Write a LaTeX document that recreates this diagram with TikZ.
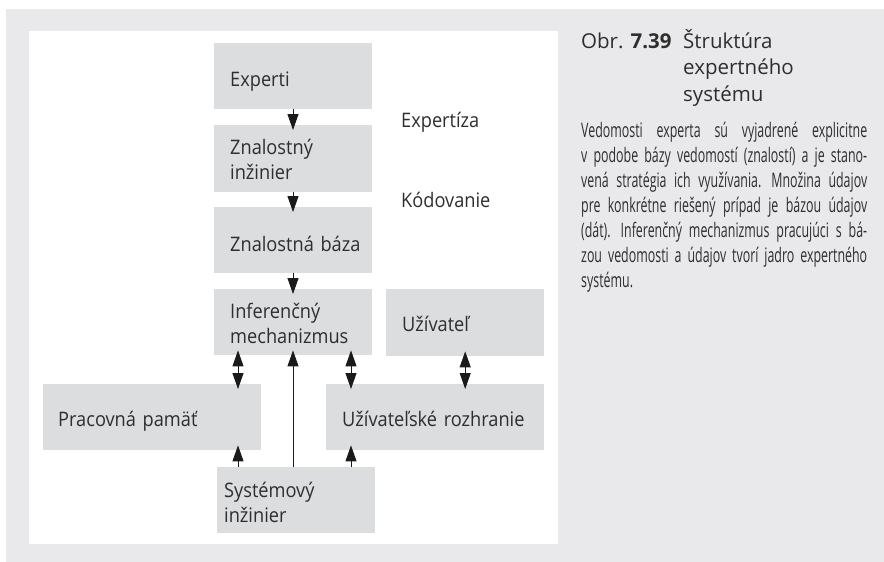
\documentclass[tikz,border=0pt]{standalone}
\usepackage{fontspec}
\setmainfont[FakeStretch=0.91]{Open Sans}
\newfontfamily\titlefont{Open Sans}
\newfontfamily\bodyfont[FakeStretch=0.62]{Open Sans}
\usetikzlibrary{arrows.meta,calc}
\definecolor{pagegray}{HTML}{E9E9EB}
\definecolor{boxgray}{HTML}{DCDDDF}
\definecolor{inkgray}{HTML}{2E2E2E}
\definecolor{arrowink}{HTML}{1A1A1A}
% one fully justified caption line: inter-word spaces stretch to fill
\newcommand\jline[1]{\leavevmode\hbox to 286pt{\spaceskip=0.17em plus 1fil\relax #1}\par}
\tikzset{
  stagebox/.style={anchor=north west, fill=boxgray, inner sep=0pt,
    minimum width=158pt, minimum height=66pt},
  stagetext/.style={anchor=base west, inner sep=0pt, text=inkgray,
    text width=210pt, align=left, font=\fontsize{20}{25}\selectfont},
  flowlabel/.style={anchor=base west, inner sep=0pt, text=inkgray,
    font=\fontsize{20}{25}\selectfont},
  oneway/.style={draw=arrowink, line width=0.9pt,
    -{Triangle[length=16pt,width=11pt]}, shorten >=-5pt},
  twoway/.style={draw=arrowink, line width=0.9pt,
    {Triangle[length=16pt,width=11pt]}-{Triangle[length=16pt,width=11pt]},
    shorten >=-5pt, shorten <=-5pt},
}
\begin{document}
\begin{tikzpicture}[x=1pt,y=-1pt]
\useasboundingbox (0,0) rectangle (884,562);
% page background and white panel
\fill[pagegray] (6,9) rectangle (884,562);
\fill[white] (29,31) rectangle (558,544);

% boxes
\node[stagebox] (exp) at (214,43) {};
\node[stagebox, minimum height=67pt] (zi) at (214,125) {};
\node[stagebox] (zb) at (214,207) {};
\node[stagebox] (inf) at (214,289) {};
\node[stagebox, minimum height=67pt] (uz) at (386,289) {};
\node[stagebox, minimum width=218pt] (pp) at (43,384) {};
\node[stagebox, minimum width=218pt] (ur) at (326,384) {};
\node[stagebox] (si) at (217,467) {};

% box texts
\node[stagetext] (exp-t) at ($(exp.north west)+(16,43)$) {Experti};
\node[stagetext] (zi-t) at ($(zi.north west)+(16,29)$) {Znalostný\\inžinier};
\node[stagetext] (zb-t) at ($(zb.north west)+(16,44)$) {Znalostná báza};
\node[stagetext] (inf-t) at ($(inf.north west)+(16,29)$) {Inferenčný\\mechanizmus};
\node[stagetext] (uz-t) at ($(uz.north west)+(16,42)$) {Užívateľ};
\node[stagetext] (pp-t) at ($(pp.north west)+(15,42)$) {Pracovná pamäť};
\node[stagetext] (ur-t) at ($(ur.north west)+(16,42)$) {Užívateľské rozhranie};
\node[stagetext] (si-t) at ($(si.north west)+(7,30)$) {Systémový\\inžinier};

% flow labels
\node[flowlabel] (lexp) at (401,127) {Expertíza};
\node[flowlabel] (lkod) at (401,207) {Kódovanie};

% connector columns
\coordinate (colA) at (238,0);
\coordinate (colB) at (293,0);
\coordinate (colC) at (351,0);

\draw[oneway] (exp.south -| colB) -- (zi.north -| colB);
\draw[oneway] (zi.south -| colB) -- (zb.north -| colB);
\draw[oneway] (zb.south -| colB) -- (inf.north -| colB);
\draw[twoway] (inf.south -| colA) -- (pp.north -| colA);
\draw[twoway] (inf.south -| colC) -- (ur.north -| colC);
\draw[twoway] (uz.south) -- (ur.north -| uz.south);
\draw[oneway] (si.north -| colA) -- (pp.south -| colA);
\draw[oneway] (si.north -| colB) -- (inf.south -| colB);
\draw[oneway] (si.north -| colC) -- (ur.south -| colC);

% caption
\node[anchor=base west, inner sep=0pt, text=inkgray,
  font=\titlefont\fontsize{20.5}{26}\selectfont]
  (obr) at (581,48) {Obr. \textbf{7.39}};
\node[anchor=base west, inner sep=0pt, text=inkgray, text width=180pt, align=left,
  font=\titlefont\fontsize{20.5}{26.5}\selectfont] (title) at (683,48)
  {Štruktúra\\expertného\\systému};
\node[anchor=base west, inner sep=0pt, text=inkgray, text width=286pt,
  font=\bodyfont\fontsize{20}{25}\selectfont] (body) at (581,137)
  {\jline{Vedomosti experta sú vyjadrené explicitne}
   \jline{v podobe bázy vedomostí (znalostí) a je stano-}
   \jline{vená stratégia ich využívania. Množina údajov}
   \jline{pre konkrétne riešený prípad je bázou údajov}
   \jline{(dát). Inferenčný mechanizmus pracujúci s bá-}
   \jline{zou vedomosti a údajov tvorí jadro expertného}
   \leavevmode systému.};
\end{tikzpicture}
\end{document}
